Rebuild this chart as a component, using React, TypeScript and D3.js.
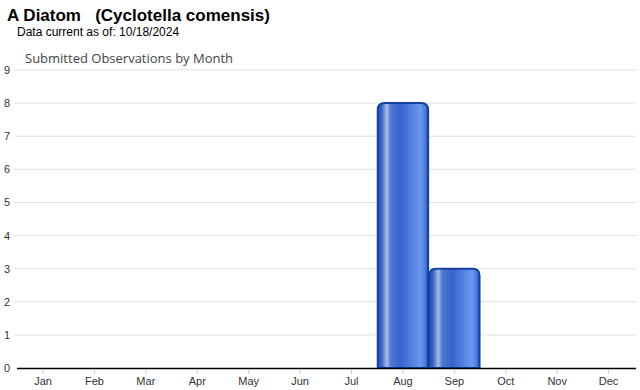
import React from "react";
import * as d3 from "d3";

const months = ["Jan","Feb","Mar","Apr","May","Jun","Jul","Aug","Sep","Oct","Nov","Dec"];
const counts = [0,0,0,0,0,0,0,8,3,0,0,0];
const yTicks = [0,1,2,3,4,5,6,7,8,9];

export default function App() {
  const W = 640, H = 390;
  const x = d3.scaleBand<string>().domain(months).range([17.3, 634.3]).paddingInner(0.02).paddingOuter(0.01);
  const y = d3.scaleLinear().domain([0, 9]).range([368, 70]);
  const bw = x.bandwidth();
  const r = 7;
  return (
    <svg width={W} height={H} style={{ position: "absolute", left: 0, top: 0, fontFamily: "Arial, 'Liberation Sans', sans-serif" }}>
      <defs>
        <linearGradient id="barg" x1="0" x2="1" y1="0" y2="0">
          <stop offset="0" stopColor="#1f4fb5" />
          <stop offset="0.08" stopColor="#3a66c6" />
          <stop offset="0.18" stopColor="#a9bde6" />
          <stop offset="0.26" stopColor="#4f78d2" />
          <stop offset="0.45" stopColor="#3464cc" />
          <stop offset="0.85" stopColor="#6b98ef" />
          <stop offset="0.95" stopColor="#4a78d8" />
          <stop offset="1" stopColor="#1d48a8" />
        </linearGradient>
      </defs>
      <rect width={W} height={H} fill="#fff" />
      <text x={7} y={21} fontSize={17} fontWeight="bold" fill="#000" style={{ whiteSpace: "pre" }}>{"A Diatom   (Cyclotella comensis)"}</text>
      <text x={17} y={36} fontSize={12} fill="#000">Data current as of: 10/18/2024</text>
      <text x={25} y={63} fontSize={13} fill="#444" fontFamily="'Open Sans', Arial, sans-serif">Submitted Observations by Month</text>
      {yTicks.map(t => (
        <g key={t}>
          {t > 0 && <line x1={14} x2={636} y1={y(t)} y2={y(t)} stroke="#e0e0e0" strokeWidth={1} />}
          <text x={7} y={y(t) + 4} fontSize={11} fill="#333" textAnchor="middle">{t}</text>
        </g>
      ))}
      {months.map((m, i) => {
        const v = counts[i];
        if (!v) return null;
        const x0 = x(m)!;
        const yt = y(v), yb = y(0);
        const p = `M${x0},${yb} L${x0},${yt + r} Q${x0},${yt} ${x0 + r},${yt} L${x0 + bw - r},${yt} Q${x0 + bw},${yt} ${x0 + bw},${yt + r} L${x0 + bw},${yb} Z`;
        return <path key={m} d={p} fill="url(#barg)" stroke="#1442a0" strokeWidth={2} />;
      })}
      <line x1={17} x2={636} y1={368.5} y2={368.5} stroke="#000" strokeWidth={1.5} />
      {months.map(m => {
        const cx = x(m)! + bw / 2;
        return (
          <g key={m}>
            <line x1={cx} x2={cx} y1={369} y2={374} stroke="#ccc" />
            <text x={cx} y={385} fontSize={11} fill="#333" textAnchor="middle">{m}</text>
          </g>
        );
      })}
    </svg>
  );
}
